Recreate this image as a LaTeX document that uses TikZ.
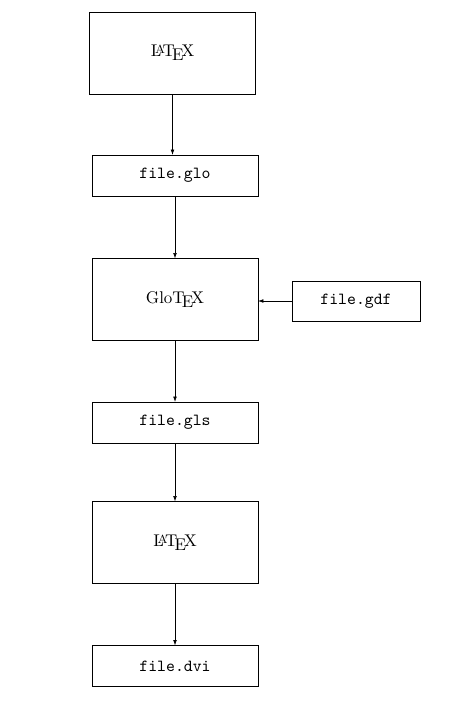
\documentclass[tikz,border=0pt]{standalone}
\usetikzlibrary{arrows.meta}
\begin{document}
\begin{tikzpicture}[x=0.59pt,y=-0.59pt,
  bigbox/.style={draw,line width=0.4pt,minimum width=97.9pt,minimum height=48.4pt,inner sep=0pt,outer sep=0pt},
  smallbox/.style={draw,line width=0.4pt,minimum width=97.9pt,minimum height=24.2pt,inner sep=0pt,outer sep=0pt,font=\ttfamily},
  sidebox/.style={draw,line width=0.4pt,minimum width=75.5pt,minimum height=23.6pt,inner sep=0pt,outer sep=0pt,font=\ttfamily},
  flow/.style={line width=0.4pt,-{Latex[length=3.2pt,width=2.2pt]}}]
\useasboundingbox (0,0) rectangle (471,711);
\node[bigbox] (latexa) at (172.5,53) {\LaTeX};
\node[smallbox] (glo) at (175,175.5) {file.glo};
\node[bigbox] (glotex) at (175,299.5) {Glo\TeX};
\node[sidebox] (gdf) at (356,301) {file.gdf};
\node[smallbox] (gls) at (175,422.5) {file.gls};
\node[bigbox] (latexb) at (175,542.5) {\LaTeX};
\node[smallbox] (dvi) at (175,666) {file.dvi};
\draw[flow] (latexa.south) -- (latexa.south |- glo.north);
\draw[flow] (glo) -- (glotex);
\draw[flow] (gdf) -- (glotex.east |- gdf.west);
\draw[flow] (glotex) -- (gls);
\draw[flow] (gls) -- (latexb);
\draw[flow] (latexb) -- (dvi);
\end{tikzpicture}
\end{document}
